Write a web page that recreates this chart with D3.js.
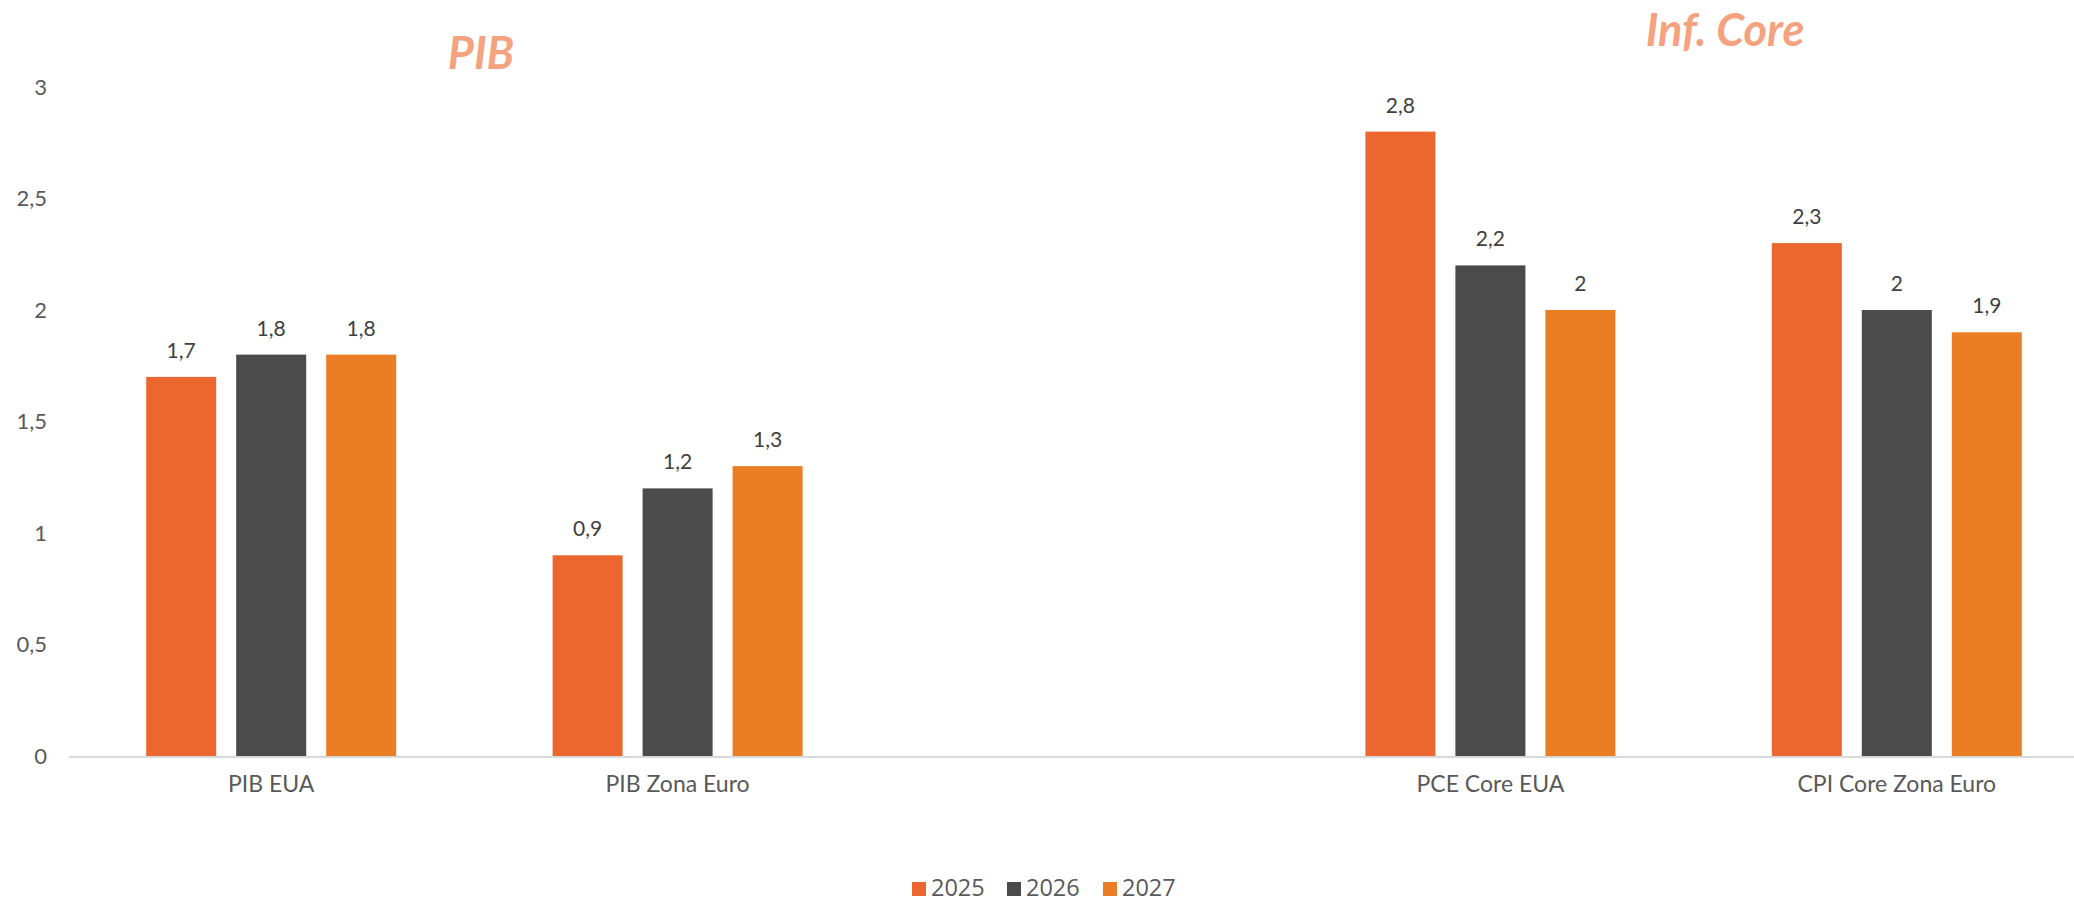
<!DOCTYPE html>
<html>
<meta charset="utf-8">
<head>
  <title>PIB e Inf. Core</title>
</head>

<style>
body { margin: 0; background: white; }
text {
  font-family: Lato, "Open Sans", sans-serif;
}
.tick text { fill: #595959; font-size: 22px; }
.cat { fill: #595959; font-size: 23px; }
.lbl { fill: #404040; font-size: 21px; }
.title { fill: #F5A27F; font-size: 45px; font-weight: bold; font-style: italic; }
.legend text { fill: #595959; font-size: 23.5px; font-family: "Open Sans", sans-serif; }
</style>

<body>
  <svg width="2074" height="903"></svg>

  <script src="https://cdnjs.cloudflare.com/ajax/libs/d3/7.8.5/d3.min.js"></script>
  <script>

var categories = ["PIB EUA", "PIB Zona Euro", "", "PCE Core EUA", "CPI Core Zona Euro"];
var years = ["2025", "2026", "2027"];
var v2025 = [1.7, 0.9, null, 2.8, 2.3];
var v2026 = [1.8, 1.2, null, 2.2, 2.0];
var v2027 = [1.8, 1.3, null, 2.0, 1.9];
var yTicks = [0, 0.5, 1, 1.5, 2, 2.5, 3];
var titles = [
  {text: "PIB", x: 481, y: 69},
  {text: "Inf. Core", x: 1725, y: 46}
];
var colors = {"2025": "#EC6730", "2026": "#4B4B4B", "2027": "#EB7E25"};

var series = {"2025": v2025, "2026": v2026, "2027": v2027};

var svg = d3.select('svg');
var br = d3.formatLocale({decimal: ",", thousands: ".", grouping: [3], currency: ["", ""]});
var fmt = function(v) { return br.format("~g")(v); };

var x0 = d3.scaleBand()
  .domain(categories)
  .range([68, 2100]);

var groupW = 250;
var x1 = d3.scaleBand()
  .domain(years)
  .range([0, groupW])
  .paddingInner(0.222);

var y = d3.scaleLinear()
  .domain([0, 3])
  .range([756, 87]);

// y axis labels, no line
var yAxis = svg.append('g')
  .attr('transform', 'translate(47,0)')
  .call(d3.axisLeft(y).tickValues(yTicks).tickSize(0).tickPadding(0).tickFormat(fmt));
yAxis.select('.domain').remove();

// baseline
svg.append('line')
  .attr('x1', 69).attr('x2', 2074)
  .attr('y1', y(0) + 1).attr('y2', y(0) + 1)
  .attr('stroke', '#D9D9D9')
  .attr('stroke-width', 2);

var groups = svg.selectAll('g.grp')
  .data(categories)
  .enter()
  .append('g')
  .attr('class', 'grp')
  .attr('transform', function(d) {
    return 'translate(' + (x0(d) + (x0.bandwidth() - groupW) / 2) + ',0)';
  });

years.forEach(function(yr) {
  var g = groups.filter(function(d, i) { return series[yr][i] != null; });
  g.append('rect')
    .attr('x', x1(yr))
    .attr('width', x1.bandwidth())
    .attr('y', function(d) { return y(series[yr][categories.indexOf(d)]); })
    .attr('height', function(d) { return y(0) - y(series[yr][categories.indexOf(d)]); })
    .attr('fill', colors[yr]);
  g.append('text')
    .attr('class', 'lbl')
    .attr('text-anchor', 'middle')
    .attr('x', x1(yr) + x1.bandwidth() / 2)
    .attr('y', function(d) { return y(series[yr][categories.indexOf(d)]) - 19; })
    .text(function(d) { return fmt(series[yr][categories.indexOf(d)]); });
});

// category labels
svg.selectAll('text.cat')
  .data(categories)
  .enter()
  .append('text')
  .attr('class', 'cat')
  .attr('text-anchor', 'middle')
  .attr('x', function(d) { return x0(d) + x0.bandwidth() / 2; })
  .attr('y', 792)
  .text(function(d) { return d; });

// section titles
svg.selectAll('text.title')
  .data(titles)
  .enter()
  .append('text')
  .attr('class', 'title')
  .attr('text-anchor', 'middle')
  .attr('x', function(d) { return d.x; })
  .attr('y', function(d) { return d.y; })
  .text(function(d) { return d.text; });

// legend
var legendX = [912, 1007, 1103];
var legend = svg.append('g').attr('class', 'legend');
years.forEach(function(yr, i) {
  legend.append('rect')
    .attr('x', legendX[i]).attr('y', 882)
    .attr('width', 14).attr('height', 14)
    .attr('fill', colors[yr]);
  legend.append('text')
    .attr('x', legendX[i] + 19).attr('y', 896)
    .text(yr);
});

  </script>
</body>
</html>
